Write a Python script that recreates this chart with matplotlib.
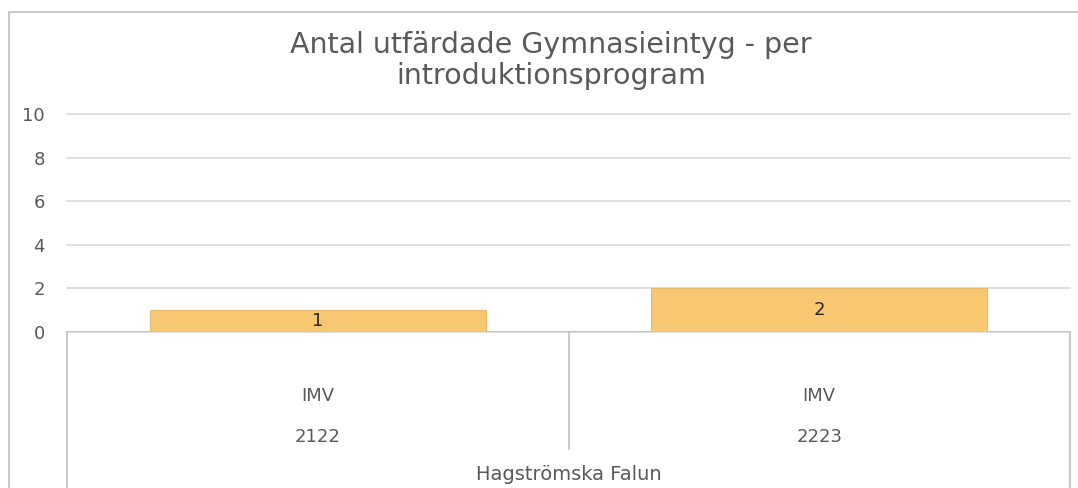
import matplotlib
matplotlib.use("Agg")
import matplotlib.pyplot as plt
from matplotlib.patches import Rectangle
from matplotlib.lines import Line2D
import matplotlib.transforms as mtransforms

# Data
programs = ["IMV", "IMV"]
years = ["2122", "2223"]
school = "Hagströmska Falun"
values = [1, 2]
yticks = [0, 2, 4, 6, 8, 10]
title_lines = ["Antal utfärdade Gymnasieintyg - per", "introduktionsprogram"]

W, H = 1078, 488
fig = plt.figure(figsize=(W / 100, H / 100), dpi=100)
plt.rcParams['font.family'] = ['DejaVu Sans']
txt = "#595959"
grid = "#d9d9d9"

def fx(px):
    return px / W

def fy(py):
    return 1 - py / H

# Outer chart border (extends past the right and bottom edges)
fig.patches.append(Rectangle((fx(9), fy(500)), fx(1100) - fx(9), fy(12) - fy(500),
                             transform=fig.transFigure, fill=False,
                             edgecolor="#bfbfbf", linewidth=1.2))

ax = fig.add_axes([fx(67), fy(332), fx(1070) - fx(67), fy(114) - fy(332)])
x = list(range(len(values)))
ax.bar(x, values, width=0.67, color="#F8C772", edgecolor="#E8B968", linewidth=0.8, zorder=3)
ax.set_xlim(-0.5, len(values) - 0.5)
ax.set_ylim(0, 10)
ax.set_yticks(yticks)
ax.set_yticklabels([str(t) for t in yticks], color=txt, fontsize=13)
ax.tick_params(axis="y", length=0, pad=16)
ax.set_xticks([])
for s in ax.spines.values():
    s.set_visible(False)
ax.grid(axis="y", color=grid, linewidth=1.2, zorder=0)
for gl in ax.get_ygridlines():
    gl.set_clip_on(False)
ax.set_axisbelow(True)

for xi, v in zip(x, values):
    ax.text(xi, v / 2, str(v), ha="center", va="center", fontsize=13, color="#262626", zorder=4)

# Baseline
ax.axhline(0, color="#bfbfbf", linewidth=1.2, zorder=2)

# Category axis lines below plot
bt = mtransforms.blended_transform_factory(ax.transData, fig.transFigure)
for xb, ybot in [(-0.5, 0), (0.5, fy(449)), (len(values) - 0.5, 0)]:
    fig.add_artist(Line2D([xb, xb], [fy(332), ybot], transform=bt, color="#bfbfbf", linewidth=1.2))

for xi, p, yr in zip(x, programs, years):
    fig.text(xi, fy(396), p, transform=bt, ha="center", va="center", fontsize=13, color=txt)
    fig.text(xi, fy(437), yr, transform=bt, ha="center", va="center", fontsize=13, color=txt)
fig.text((x[0] + x[-1]) / 2, fy(474), school, transform=bt, ha="center", va="center", fontsize=14, color=txt)

fig.text(fx(551), fy(45), title_lines[0], ha="center", va="center", fontsize=20.5, color=txt)
fig.text(fx(551), fy(76), title_lines[1], ha="center", va="center", fontsize=20.5, color=txt)

fig.savefig("out.png", dpi=100)
